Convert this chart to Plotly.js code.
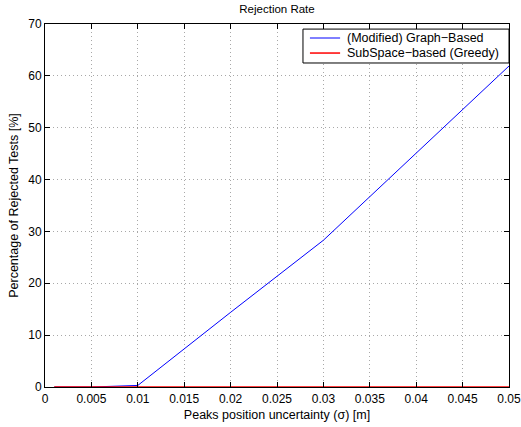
<!DOCTYPE html>
<html>
<head>
<meta charset="utf-8">
<script src="https://cdn.plot.ly/plotly-3.0.1.min.js"></script>
<style>html,body{margin:0;padding:0;background:#fff;}#chart{width:521px;height:427px;}</style>
</head>
<body>
<div id="chart"></div>
<script>
const sigma = [0.001, 0.005, 0.01, 0.02, 0.03, 0.04, 0.05];
const graphBased = [0, 0, 0.3, 14.4, 28.3, 45.1, 61.9];
const subspaceGreedy = [0, 0, 0, 0, 0, 0, 0];
const seriesNames = ["(Modified) Graph\u2212Based", "SubSpace\u2212based (Greedy)"];
const seriesColors = ["#0000ff", "#ff0000"];
const xTicks = [0, 0.005, 0.01, 0.015, 0.02, 0.025, 0.03, 0.035, 0.04, 0.045, 0.05];
const xTickText = ["0", "0.005", "0.01", "0.015", "0.02", "0.025", "0.03", "0.035", "0.04", "0.045", "0.05"];
const yTicks = [0, 10, 20, 30, 40, 50, 60, 70];

const fam = "Liberation Sans, Arial, sans-serif";
const tickFont = {family: fam, size: 12, color: "#000"};
const labelFont = {family: fam, size: 12.5, color: "#000"};
const traces = [
  {x: sigma, y: graphBased, name: seriesNames[0], mode: "lines", line: {color: seriesColors[0], width: 1}, cliponaxis: false},
  {x: sigma, y: subspaceGreedy, name: seriesNames[1], mode: "lines", line: {color: seriesColors[1], width: 1.5}, cliponaxis: false}
];

// compact MATLAB-style legend box (paper coordinates of the plot area)
const legendBox = {x0: 0.556, x1: 1.0, y0: 0.8926, y1: 0.986};
const legendRows = [0.9614, 0.920];
const shapes = [{type: "rect", xref: "paper", yref: "paper", x0: legendBox.x0, x1: legendBox.x1, y0: legendBox.y0, y1: legendBox.y1,
  fillcolor: "#fff", line: {color: "#000", width: 1}, layer: "above"}];
const annotations = [];
seriesNames.forEach((n, i) => {
  shapes.push({type: "line", xref: "paper", yref: "paper", x0: 0.571, x1: 0.636, y0: legendRows[i], y1: legendRows[i],
    line: {color: seriesColors[i], width: i === 0 ? 1 : 1.5}, layer: "above"});
  annotations.push({xref: "paper", yref: "paper", x: 0.6466, y: legendRows[i], xanchor: "left", yanchor: "middle",
    text: n, showarrow: false, font: {family: fam, size: 12.5, color: "#000"}});
});

const axisCommon = {
  showline: true, linecolor: "#000", linewidth: 1, mirror: "ticks",
  ticks: "inside", ticklen: 5, tickcolor: "#000", tickwidth: 1,
  showgrid: true, gridcolor: "#a8a8a8", griddash: "1px,3px", gridwidth: 1,
  zeroline: false, tickfont: tickFont, ticklabeloverflow: "allow"
};
const layout = {
  width: 521, height: 427,
  margin: {l: 45, r: 12, t: 24, b: 40},
  paper_bgcolor: "#fff", plot_bgcolor: "#fff",
  font: tickFont,
  title: {text: "Rejection Rate", font: {family: fam, size: 11.5, color: "#000"}, x: 0.5, xref: "paper", y: 0.979, yanchor: "middle"},
  xaxis: Object.assign({}, axisCommon, {
    range: [0, 0.05], tickvals: xTicks, ticktext: xTickText, ticklabelstandoff: 1,
    title: {text: "Peaks position uncertainty (\u03c3) [m]", font: labelFont, standoff: 4}
  }),
  yaxis: Object.assign({}, axisCommon, {
    range: [0, 70], tickvals: yTicks,
    title: {text: "Percentage of Rejected Tests [%]", font: labelFont, standoff: 6}
  }),
  shapes: shapes,
  annotations: annotations,
  showlegend: false
};
Plotly.newPlot("chart", traces, layout, {displayModeBar: false, staticPlot: true});
</script>
</body>
</html>
